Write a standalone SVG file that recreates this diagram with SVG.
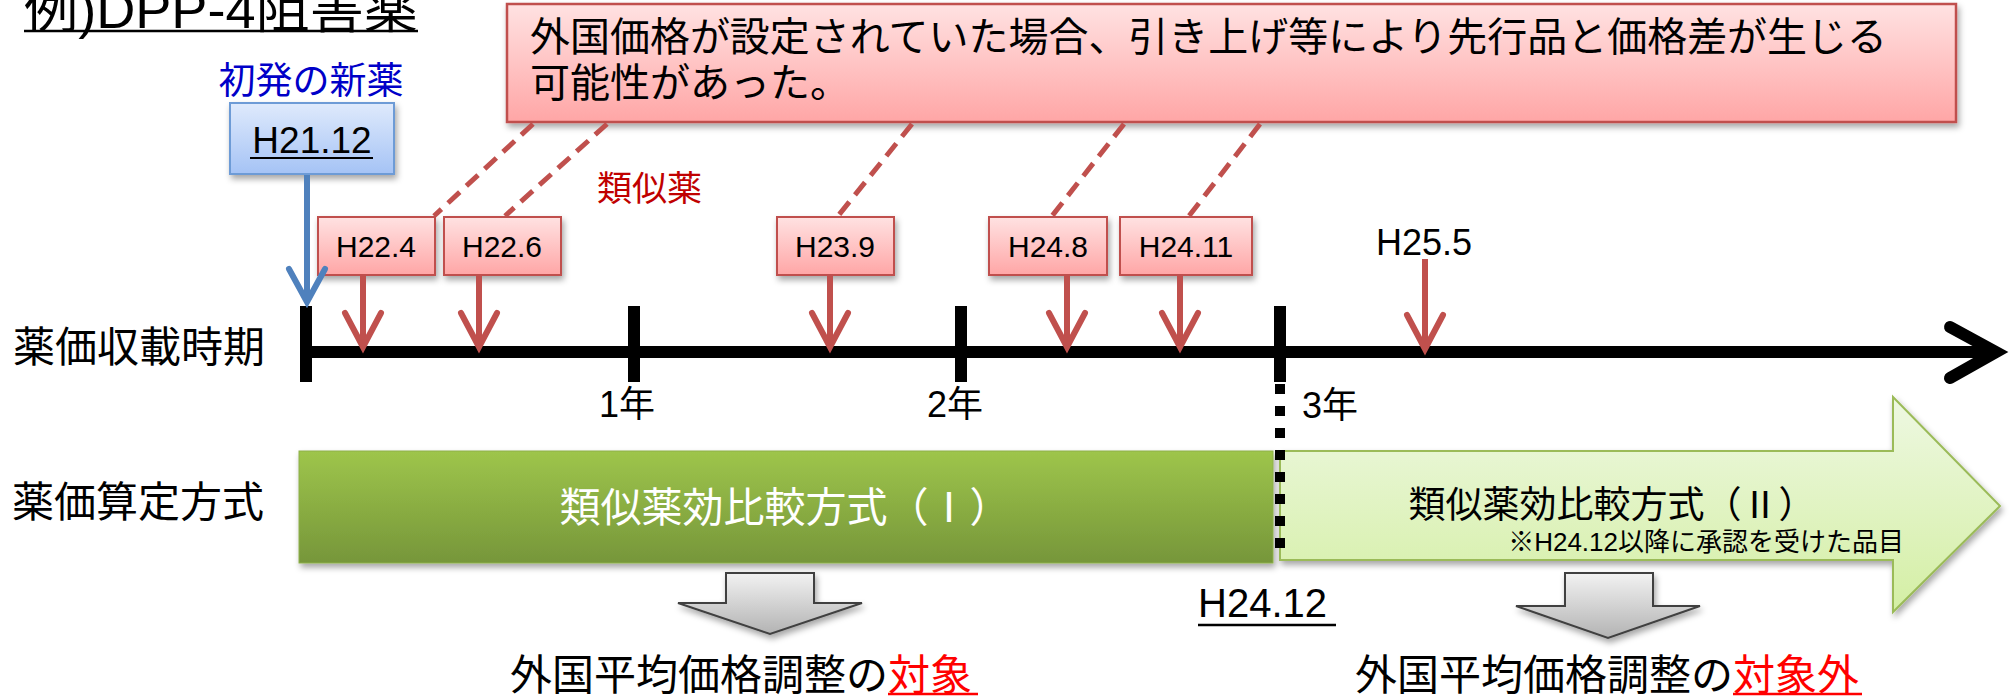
<svg xmlns="http://www.w3.org/2000/svg" width="2012" height="697" viewBox="0 0 2012 697">
<style>
.jp{font-family:'Liberation Sans','Noto Sans CJK JP',sans-serif;}
.lat{font-family:'Liberation Sans','Noto Sans CJK JP',sans-serif;}
.rbox{fill:url(#redGrad);stroke:#c0504d;stroke-width:2;filter:url(#shadow);}
.rarrow{fill:none;stroke:#c0504d;stroke-width:6;}
.dash{fill:none;stroke:#c0504d;stroke-width:5;stroke-dasharray:16 9;}
.tick{stroke:#000;stroke-width:12;}
</style>
<defs>
<linearGradient id="redGrad" x1="0" y1="0" x2="0" y2="1"><stop offset="0" stop-color="#ffe2e2"/><stop offset="1" stop-color="#ffa6a6"/></linearGradient>
<linearGradient id="blueGrad" x1="0" y1="0" x2="0" y2="1"><stop offset="0" stop-color="#dfeafc"/><stop offset="1" stop-color="#a5c3f5"/></linearGradient>
<linearGradient id="greenDark" x1="0" y1="0" x2="0" y2="1"><stop offset="0" stop-color="#9ec54b"/><stop offset="1" stop-color="#76963a"/></linearGradient>
<linearGradient id="greenLight" x1="0" y1="0" x2="0" y2="1"><stop offset="0" stop-color="#eef8e2"/><stop offset="1" stop-color="#d4efa4"/></linearGradient>
<linearGradient id="grayGrad" x1="0" y1="0" x2="0" y2="1"><stop offset="0" stop-color="#f2f2f2"/><stop offset="1" stop-color="#b3b3b3"/></linearGradient>
<filter id="shadow" x="-10%" y="-10%" width="130%" height="140%"><feDropShadow dx="2" dy="4" stdDeviation="3" flood-color="#000" flood-opacity="0.35"/></filter>
<marker id="redHead" markerUnits="userSpaceOnUse" viewBox="-40 -25 50 50" markerWidth="50" markerHeight="50" refX="0" refY="0" orient="auto" overflow="visible">
<path d="M-34,-18 L0,0 L-34,18" fill="none" stroke="#c0504d" stroke-width="6" stroke-linecap="round"/>
</marker>
<marker id="blueHead" markerUnits="userSpaceOnUse" viewBox="-40 -25 50 50" markerWidth="50" markerHeight="50" refX="0" refY="0" orient="auto" overflow="visible">
<path d="M-33,-18 L0,0 L-33,18" fill="none" stroke="#4f81bd" stroke-width="6" stroke-linecap="round"/>
</marker>
</defs>

<g id="title">
<text class="jp" x="24" y="28" font-size="52" textLength="394" lengthAdjust="spacingAndGlyphs" fill="#000">例)DPP-4阻害薬</text>
<line x1="24" y1="31" x2="418" y2="31" stroke="#000" stroke-width="2.5"/>
</g>

<g id="label-timeline">
<text class="jp" x="13" y="362" font-size="42" fill="#000">薬価収載時期</text>
</g>
<g id="label-method">
<text class="jp" x="12" y="517" font-size="42" fill="#000">薬価算定方式</text>
</g>

<g id="timeline">
<line x1="300" y1="352" x2="1990" y2="352" stroke="#000" stroke-width="12"/>
<path d="M1950,327 L1996,352 L1950,378" fill="none" stroke="#000" stroke-width="12" stroke-linecap="round"/>
<line class="tick" x1="306" y1="306" x2="306" y2="382"/>
<line class="tick" x1="634" y1="306" x2="634" y2="382"/>
<line class="tick" x1="961" y1="306" x2="961" y2="382"/>
<line class="tick" x1="1280" y1="306" x2="1280" y2="382"/>
<text class="jp" x="599" y="417" font-size="36">1年</text>
<text class="jp" x="927" y="417" font-size="36">2年</text>
<text class="jp" x="1302" y="418" font-size="36">3年</text>
</g>

<g id="label-new-drug">
<text class="jp" x="311" y="94" font-size="37" fill="#0000c8" text-anchor="middle">初発の新薬</text>
</g>
<g id="box-h21-12">
<rect x="230" y="103" width="164" height="71" fill="url(#blueGrad)" stroke="#6d9bd6" stroke-width="2" filter="url(#shadow)"/>
<text class="lat" x="312" y="153" font-size="37" text-anchor="middle">H21.12</text>
<line x1="250" y1="158" x2="373" y2="158" stroke="#000" stroke-width="2"/>
</g>

<g id="callout">
<rect x="507" y="4" width="1449" height="118" fill="url(#redGrad)" stroke="#c0504d" stroke-width="2.5" filter="url(#shadow)"/>
<text class="jp" x="530" y="51" font-size="40" textLength="1357" lengthAdjust="spacingAndGlyphs">外国価格が設定されていた場合、引き上げ等により先行品と価格差が生じる</text>
<text class="jp" x="530" y="97" font-size="40" textLength="320" lengthAdjust="spacingAndGlyphs">可能性があった。</text>
</g>

<g id="label-similar">
<text class="jp" x="597" y="201" font-size="35" fill="#c00000">類似薬</text>
</g>

<g id="box-h22-4"><rect class="rbox" x="318" y="217" width="117" height="58"/><text class="lat" x="376" y="257" font-size="30" text-anchor="middle">H22.4</text></g>
<g id="box-h22-6"><rect class="rbox" x="444" y="217" width="117" height="58"/><text class="lat" x="502" y="257" font-size="30" text-anchor="middle">H22.6</text></g>
<g id="box-h23-9"><rect class="rbox" x="777" y="217" width="117" height="58"/><text class="lat" x="835" y="257" font-size="30" text-anchor="middle">H23.9</text></g>
<g id="box-h24-8"><rect class="rbox" x="989" y="217" width="118" height="58"/><text class="lat" x="1048" y="257" font-size="30" text-anchor="middle">H24.8</text></g>
<g id="box-h24-11"><rect class="rbox" x="1120" y="217" width="132" height="58"/><text class="lat" x="1186" y="257" font-size="30" text-anchor="middle">H24.11</text></g>
<g id="label-h25-5"><text class="lat" x="1424" y="255" font-size="36" text-anchor="middle">H25.5</text></g>

<g id="method-1">
<rect x="299" y="451" width="974" height="112" fill="url(#greenDark)" stroke="#8db04a" stroke-width="1" filter="url(#shadow)"/>
<text class="jp" x="785" y="522" font-size="41" fill="#fff" text-anchor="middle">類似薬効比較方式（Ⅰ）</text>
</g>

<g id="method-2">
<path d="M1280,451 L1893,451 L1893,397 L2000,506 L1893,612 L1893,560 L1280,560 Z" fill="url(#greenLight)" stroke="#9bbb59" stroke-width="2" filter="url(#shadow)"/>
<text class="jp" x="1612" y="518" font-size="37" text-anchor="middle">類似薬効比較方式（Ⅱ）</text>
<text class="jp" x="1904" y="551" font-size="26" text-anchor="end">※H24.12以降に承認を受けた品目</text>
</g>

<g id="boundary">
<line x1="1280" y1="384" x2="1280" y2="556" stroke="#000" stroke-width="10" stroke-dasharray="10 12"/>
<text class="lat" x="1198" y="617" font-size="40">H24.12</text>
<line x1="1198" y1="625" x2="1336" y2="625" stroke="#000" stroke-width="2.5"/>
</g>

<g id="result-1">
<path d="M726,573 L814,573 L814,603 L862,603 L770,634 L678,603 L726,603 Z" fill="url(#grayGrad)" stroke="#404040" stroke-width="2" filter="url(#shadow)"/>
<text class="jp" x="510" y="690" font-size="42">外国平均価格調整の<tspan fill="#ff0000">対象</tspan></text>
<line x1="888" y1="694" x2="978" y2="694" stroke="#ff0000" stroke-width="2.5"/>
</g>

<g id="result-2">
<path d="M1565,573 L1653,573 L1653,606 L1700,606 L1608,638 L1516,606 L1565,606 Z" fill="url(#grayGrad)" stroke="#404040" stroke-width="2" filter="url(#shadow)"/>
<text class="jp" x="1355" y="690" font-size="42">外国平均価格調整の<tspan fill="#ff0000">対象外</tspan></text>
<line x1="1733" y1="694" x2="1862" y2="694" stroke="#ff0000" stroke-width="2.5"/>
</g>

<g id="connectors">
<line class="dash" x1="533" y1="124" x2="434" y2="216"/>
<line class="dash" x1="607" y1="124" x2="505" y2="216"/>
<line class="dash" x1="912" y1="124" x2="838" y2="216"/>
<line class="dash" x1="1124" y1="124" x2="1052" y2="216"/>
<line class="dash" x1="1260" y1="124" x2="1189" y2="216"/>
<line x1="307" y1="175" x2="307" y2="302" stroke="#4f81bd" stroke-width="6" marker-end="url(#blueHead)"/>
<line class="rarrow" x1="363" y1="276" x2="363" y2="347" marker-end="url(#redHead)"/>
<line class="rarrow" x1="479" y1="276" x2="479" y2="347" marker-end="url(#redHead)"/>
<line class="rarrow" x1="830" y1="276" x2="830" y2="347" marker-end="url(#redHead)"/>
<line class="rarrow" x1="1067" y1="276" x2="1067" y2="347" marker-end="url(#redHead)"/>
<line class="rarrow" x1="1180" y1="276" x2="1180" y2="347" marker-end="url(#redHead)"/>
<line class="rarrow" x1="1425" y1="259" x2="1425" y2="349" marker-end="url(#redHead)"/>
</g>
</svg>
